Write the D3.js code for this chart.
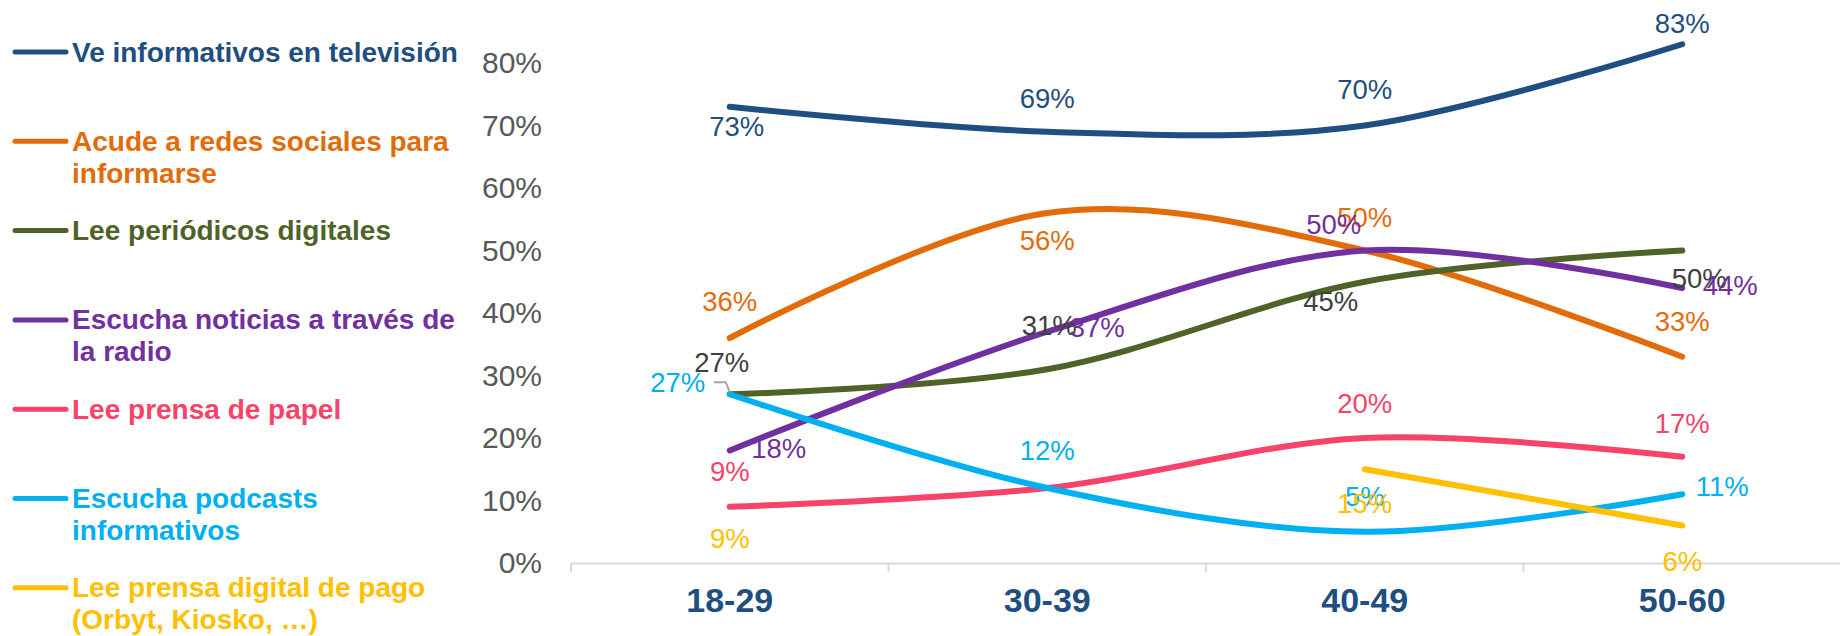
<!DOCTYPE html>
<html>
<head>
<meta charset="utf-8">
<script src="https://cdn.jsdelivr.net/npm/d3@7"></script>
<style>
  html, body { margin: 0; padding: 0; background: #ffffff; }
  svg { display: block; font-family: Arial, "Liberation Sans", sans-serif; }
</style>
</head>
<body>
<svg id="chart" width="1840" height="636"></svg>
<script>
// ---------------- data ----------------
const categories = ["18-29", "30-39", "40-49", "50-60"];
const yTicks = [0, 10, 20, 30, 40, 50, 60, 70, 80];

const seriesNames = [
  ["Ve informativos en televisión"],
  ["Acude a redes sociales para", "informarse"],
  ["Lee periódicos digitales"],
  ["Escucha noticias a través de", "la radio"],
  ["Lee prensa de papel"],
  ["Escucha podcasts", "informativos"],
  ["Lee prensa digital de pago", "(Orbyt, Kiosko, …)"]
];

const tvValues        = [73, 69, 70, 83];
const redesValues     = [36, 56, 50, 33];
const periodicoValues = [27, 31, 45, 50];
const radioValues     = [18, 37, 50, 44];
const papelValues     = [9, 12, 20, 17];
const podcastValues   = [27, 12, 5, 11];
const pagoValues      = [9, null, 15, 6];

// ---------------- styles / layout ----------------
const lineColors  = ["#1F4E80", "#E36C0A", "#4F6228", "#7030A0", "#F7426A", "#00B0F0", "#FFC000"];
const labelColors = ["#1F4E80", "#E36C0A", "#404040", "#7030A0", "#F7426A", "#00B0F0", "#FFC000"];
// label offsets (dx, dy) relative to point; null = no label shown
const labelOffsets = [
  [[7, 20], [0, -33], [0, -36], [0, -21]],
  [[0, -37], [0, 27], [0, -33], [0, -35]],
  [[-8, -32], [2, -44], [-34, 20], [17, 28]],
  [[49, -2], [50, -4], [-31, -26], [48, -3]],
  [[0, -35], null, [0, -35], [0, -33]],
  [[-52, -12], [0, -38], [0, -35], [40, -8]],
  [[0, 32], null, [0, 34], [0, 36]]
];

const allValues = [tvValues, redesValues, periodicoValues, radioValues, papelValues, podcastValues, pagoValues];

const svg = d3.select("#chart");

const x = d3.scaleBand().domain(categories).range([571, 1841]).padding(0);
const y = d3.scaleLinear().domain([0, 80]).range([563, 63]);
const cx = c => x(c) + x.bandwidth() / 2;

// ---------------- axes ----------------
const xAxis = svg.append("g")
  .attr("transform", `translate(0,${y(0)})`)
  .call(d3.axisBottom(x).tickSize(0).tickSizeOuter(0).tickPadding(0));
xAxis.select(".domain").attr("stroke", "#D9D9D9").attr("stroke-width", 2);
xAxis.selectAll(".tick text")
  .attr("y", 37).attr("dy", "0.35em")
  .attr("font-size", 34).attr("font-weight", "bold")
  .attr("fill", "#1F4E80")
  .attr("font-family", 'Arial, "Liberation Sans", sans-serif');

// tick marks at band boundaries
const boundaries = categories.map(c => x(c)).concat([x.range()[1]]);
svg.append("g").selectAll("line").data(boundaries).join("line")
  .attr("x1", d => d).attr("x2", d => d)
  .attr("y1", y(0)).attr("y2", y(0) + 9)
  .attr("stroke", "#D9D9D9").attr("stroke-width", 2);

const yAxis = svg.append("g")
  .attr("transform", "translate(550,0)")
  .call(d3.axisLeft(y).tickValues(yTicks).tickFormat(d => d + "%").tickSize(0).tickPadding(8));
yAxis.select(".domain").remove();
yAxis.selectAll(".tick text")
  .attr("font-size", 30).attr("fill", "#595959")
  .attr("font-family", 'Arial, "Liberation Sans", sans-serif');

// ---------------- lines ----------------
const line = d3.line()
  .defined(d => d.v !== null)
  .x(d => cx(d.c))
  .y(d => y(d.v))
  .curve(d3.curveCardinal.tension(0));

allValues.forEach((vals, i) => {
  const pts = vals.map((v, j) => ({ c: categories[j], v: v }));
  // split into contiguous segments; only draw segments with >= 2 points
  const segs = [];
  let cur = [];
  pts.forEach(p => {
    if (p.v === null) { if (cur.length) segs.push(cur); cur = []; }
    else cur.push(p);
  });
  if (cur.length) segs.push(cur);
  segs.filter(s => s.length >= 2).forEach(s => {
    svg.append("path")
      .attr("d", line(s))
      .attr("fill", "none")
      .attr("stroke", lineColors[i])
      .attr("stroke-width", 6)
      .attr("stroke-linecap", "round")
      .attr("stroke-linejoin", "round");
  });
});

// leader line for podcast 18-29 label
{
  const px = cx(categories[0]), py = y(podcastValues[0]);
  svg.append("polyline")
    .attr("points", [[px - 16, py - 12], [px - 4, py - 12], [px, py - 2]].map(p => p.join(",")).join(" "))
    .attr("fill", "none").attr("stroke", "#A6A6A6").attr("stroke-width", 2);
}

// ---------------- data labels ----------------
allValues.forEach((vals, i) => {
  vals.forEach((v, j) => {
    const off = labelOffsets[i][j];
    if (v === null || !off) return;
    svg.append("text")
      .attr("x", cx(categories[j]) + off[0])
      .attr("y", y(v) + off[1])
      .attr("text-anchor", "middle")
      .attr("dominant-baseline", "central")
      .attr("font-size", 27.5)
      .attr("fill", labelColors[i])
      .text(v + "%");
  });
});

// ---------------- legend ----------------
const legend = svg.append("g");
seriesNames.forEach((lines, i) => {
  const ly = 52 + i * 89.3;
  legend.append("line")
    .attr("x1", 15).attr("x2", 66)
    .attr("y1", ly).attr("y2", ly)
    .attr("stroke", lineColors[i]).attr("stroke-width", 5)
    .attr("stroke-linecap", "round");
  lines.forEach((t, k) => {
    legend.append("text")
      .attr("x", 72).attr("y", ly + k * 32)
      .attr("dominant-baseline", "central")
      .attr("font-size", 28).attr("font-weight", "bold")
      .attr("fill", lineColors[i])
      .text(t);
  });
});
</script>
</body>
</html>
